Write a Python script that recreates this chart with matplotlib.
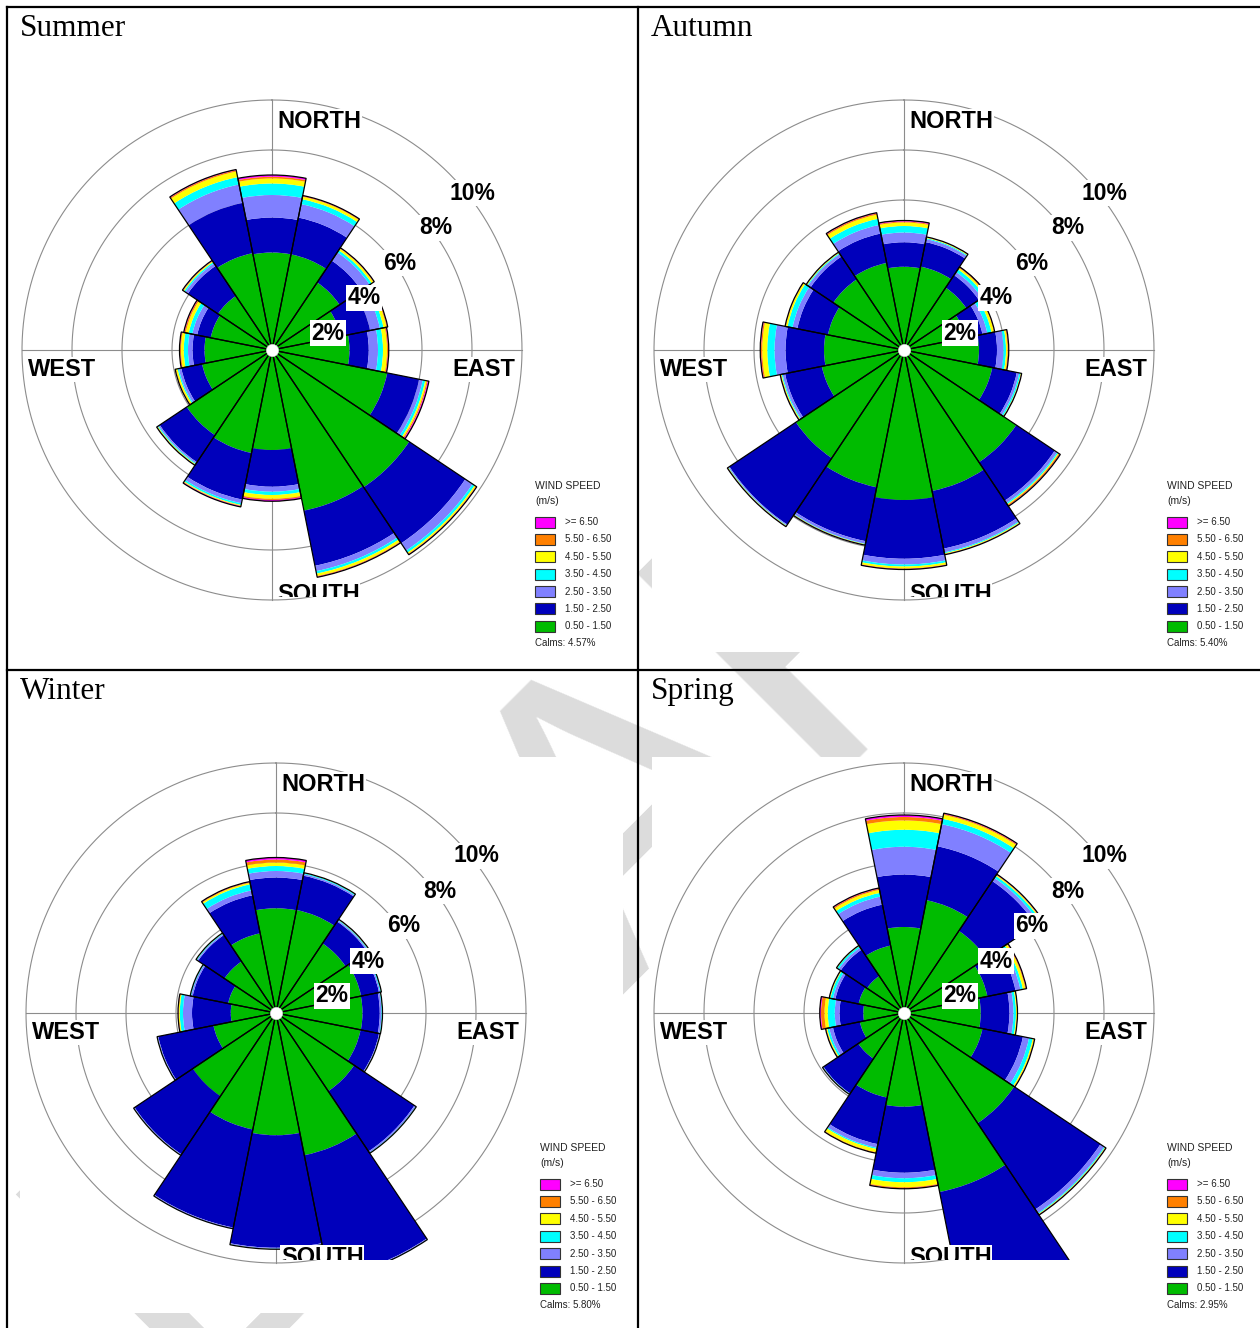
import numpy as np
import matplotlib.pyplot as plt
from matplotlib.patches import Rectangle
from matplotlib.transforms import Bbox, TransformedBbox

W, H = 1260, 1328

DIRECTIONS = ["N", "NNE", "NE", "ENE", "E", "ESE", "SE", "SSE",
              "S", "SSW", "SW", "WSW", "W", "WNW", "NW", "NNW"]
SPEED_BINS = ["0.50 - 1.50", "1.50 - 2.50", "2.50 - 3.50", "3.50 - 4.50",
              "4.50 - 5.50", "5.50 - 6.50", ">= 6.50"]
SPEED_COLORS = ["#00bb00", "#0000bb", "#8080ff", "#00ffff",
                "#ffff00", "#ff8000", "#ff00ff"]
RINGS = [2, 4, 6, 8, 10]

# frequency (%) by direction (rows follow DIRECTIONS, columns follow SPEED_BINS)
SUMMER = [
    [3.90, 1.40, 0.90, 0.46, 0.20, 0.07, 0.07],
    [3.90, 1.50, 0.55, 0.20, 0.10, 0.03, 0.02],
    [3.25, 1.05, 0.40, 0.10, 0.08, 0.02, 0.02],
    [2.80, 1.20, 0.40, 0.15, 0.12, 0.03, 0.02],
    [3.10, 0.77, 0.37, 0.20, 0.16, 0.04, 0.03],
    [4.70, 1.30, 0.15, 0.10, 0.06, 0.04, 0.05],
    [6.60, 2.70, 0.35, 0.10, 0.06, 0.02, 0.02],
    [6.55, 2.25, 0.22, 0.10, 0.10, 0.03, 0.02],
    [4.00, 1.47, 0.20, 0.13, 0.15, 0.05, 0.05],
    [4.20, 1.90, 0.15, 0.07, 0.03, 0.02, 0.03],
    [4.10, 1.30, 0.06, 0.04, 0.03, 0.01, 0.01],
    [2.85, 0.85, 0.10, 0.05, 0.07, 0.02, 0.01],
    [2.70, 0.48, 0.18, 0.17, 0.11, 0.04, 0.02],
    [2.50, 0.55, 0.20, 0.15, 0.12, 0.05, 0.03],
    [2.60, 1.45, 0.12, 0.06, 0.04, 0.02, 0.02],
    [3.95, 2.05, 0.75, 0.30, 0.23, 0.05, 0.03],
]
AUTUMN = [
    [3.33, 0.98, 0.39, 0.26, 0.14, 0.04, 0.04],
    [3.40, 1.00, 0.12, 0.04, 0.03, 0.01, 0.01],
    [3.00, 0.60, 0.15, 0.13, 0.07, 0.03, 0.02],
    [2.50, 0.70, 0.20, 0.17, 0.10, 0.02, 0.01],
    [3.00, 0.72, 0.26, 0.10, 0.06, 0.03, 0.02],
    [3.60, 1.00, 0.10, 0.06, 0.02, 0.01, 0.01],
    [5.40, 1.85, 0.12, 0.05, 0.03, 0.05, 0.02],
    [5.75, 2.35, 0.15, 0.04, 0.03, 0.02, 0.01],
    [6.00, 2.35, 0.23, 0.08, 0.08, 0.02, 0.02],
    [5.60, 2.20, 0.10, 0.02, 0.02, 0.01, 0.01],
    [5.20, 3.20, 0.04, 0.02, 0.02, 0.01, 0.01],
    [3.35, 1.50, 0.10, 0.04, 0.03, 0.02, 0.01],
    [3.20, 1.54, 0.44, 0.29, 0.20, 0.05, 0.03],
    [3.10, 1.25, 0.20, 0.20, 0.07, 0.02, 0.01],
    [3.40, 1.10, 0.12, 0.04, 0.03, 0.01, 0.01],
    [3.55, 1.20, 0.35, 0.25, 0.17, 0.05, 0.03],
]
WINTER = [
    [4.19, 1.23, 0.26, 0.20, 0.14, 0.12, 0.08],
    [4.20, 1.40, 0.06, 0.04, 0.01, 0.01, 0.00],
    [3.35, 1.05, 0.05, 0.03, 0.01, 0.01, 0.01],
    [3.47, 0.73, 0.05, 0.04, 0.01, 0.00, 0.00],
    [3.46, 0.69, 0.07, 0.03, 0.01, 0.00, 0.00],
    [3.45, 0.75, 0.03, 0.01, 0.01, 0.00, 0.00],
    [3.76, 2.90, 0.06, 0.02, 0.01, 0.00, 0.00],
    [5.80, 5.05, 0.04, 0.01, 0.00, 0.00, 0.00],
    [4.89, 4.50, 0.04, 0.01, 0.01, 0.00, 0.00],
    [4.75, 4.00, 0.04, 0.01, 0.00, 0.00, 0.00],
    [4.00, 2.80, 0.03, 0.01, 0.01, 0.00, 0.00],
    [2.55, 2.25, 0.03, 0.01, 0.01, 0.00, 0.00],
    [1.81, 1.55, 0.36, 0.13, 0.04, 0.02, 0.01],
    [1.95, 1.45, 0.06, 0.03, 0.01, 0.00, 0.00],
    [2.48, 1.27, 0.05, 0.03, 0.01, 0.01, 0.00],
    [3.25, 1.55, 0.20, 0.25, 0.06, 0.03, 0.02],
]
SPRING = [
    [3.44, 2.10, 1.11, 0.68, 0.37, 0.14, 0.08],
    [4.60, 2.20, 0.90, 0.22, 0.16, 0.04, 0.03],
    [3.95, 2.40, 0.15, 0.10, 0.04, 0.02, 0.02],
    [3.40, 1.15, 0.20, 0.10, 0.10, 0.03, 0.02],
    [3.07, 1.15, 0.16, 0.10, 0.04, 0.01, 0.01],
    [3.20, 1.65, 0.25, 0.15, 0.05, 0.02, 0.01],
    [5.30, 4.15, 0.18, 0.04, 0.02, 0.02, 0.01],
    [7.30, 6.30, 0.15, 0.03, 0.02, 0.00, 0.00],
    [3.75, 2.64, 0.22, 0.16, 0.20, 0.04, 0.02],
    [3.45, 1.90, 0.15, 0.05, 0.13, 0.03, 0.01],
    [2.20, 1.67, 0.02, 0.02, 0.01, 0.00, 0.00],
    [1.80, 1.10, 0.15, 0.08, 0.04, 0.02, 0.01],
    [1.63, 0.95, 0.19, 0.28, 0.13, 0.14, 0.05],
    [1.85, 0.95, 0.10, 0.10, 0.03, 0.01, 0.01],
    [1.78, 1.27, 0.10, 0.07, 0.02, 0.01, 0.00],
    [2.75, 1.67, 0.33, 0.15, 0.12, 0.05, 0.03],
]
CALMS = {"Summer": 4.57, "Autumn": 5.40, "Winter": 5.80, "Spring": 2.95}

R_MAX = 12.5      # radial limit of each rose, in %
PX_PER_PCT = 25   # 10% ring = 250 px
RING_GREY = "#8c8c8c"
SANS = "Liberation Sans"

fig = plt.figure(figsize=(W / 100, H / 100), dpi=100)


def fx(x):
    return x / W


def fy(y):
    return 1 - y / H


def fig_box(x0, y0, x1, y1):
    return TransformedBbox(Bbox([[fx(x0), fy(y1)], [fx(x1), fy(y0)]]), fig.transFigure)


def white_rect(x0, y0, x1, y1):
    fig.add_artist(Rectangle((fx(x0), fy(y1)), (x1 - x0) / W, (y1 - y0) / H,
                             transform=fig.transFigure, fc="white", ec="none", zorder=-2))


# faint watermark, showing only between the pasted pictures
fig.text(fx(600), fy(830), "DRAFT", rotation=45, fontsize=300, color="#dcdcdc",
         ha="center", va="center", family=SANS, zorder=-3)


def draw_rose(rows, cx, cy):
    size = 2 * R_MAX * PX_PER_PCT
    clip = fig_box(cx - 252, cy - 257, cx + 252, cy + 247)

    ax = fig.add_axes([fx(cx - size / 2), fy(cy + size / 2), size / W, size / H],
                      projection="polar")
    ax.set_theta_zero_location("N")
    ax.set_theta_direction(-1)
    ax.set_ylim(0, R_MAX)
    ax.axis("off")

    t = np.linspace(0, 2 * np.pi, 400)
    for r in RINGS:
        ax.plot(t, np.full_like(t, r), color=RING_GREY, lw=0.8, zorder=1)
    for a in (0, 90, 180, 270):
        ax.plot([np.deg2rad(a)] * 2, [0, RINGS[-1]], color=RING_GREY, lw=0.8, zorder=1)

    data = np.array(rows)
    theta = np.deg2rad(np.arange(len(DIRECTIONS)) * 22.5)
    width = np.deg2rad(22.5)
    bottom = np.zeros(len(DIRECTIONS))
    for k, color in enumerate(SPEED_COLORS):
        bars = ax.bar(theta, data[:, k], width=width, bottom=bottom,
                      color=color, edgecolor="none", zorder=2)
        for b in bars:
            b.set_clip_box(clip)
        bottom += data[:, k]
    outline = ax.bar(theta, bottom, width=width, fill=False,
                     edgecolor="black", lw=0.9, zorder=3)
    for b in outline:
        b.set_clip_box(clip)
    ax.scatter([0], [0], s=78, c="white", edgecolors="#dddddd", linewidths=0.4, zorder=4)

    # ring labels run up to the right of the centre
    for v in RINGS:
        x = cx + PX_PER_PCT * (0.8 + 0.72 * v)
        y = cy - PX_PER_PCT * (0.7 * v - 0.72)
        fig.text(fx(x), fy(y), f"{v}%", ha="center", va="center", fontsize=16.5,
                 weight="bold", family=SANS,
                 bbox=dict(fc="white", ec="none", pad=0.8))

    lab = dict(fontsize=17, weight="bold", family=SANS, va="baseline",
               bbox=dict(fc="white", ec="none", pad=0.5))
    fig.text(fx(cx + 5), fy(cy - 222), "NORTH", ha="left", **lab)
    fig.text(fx(cx - 244), fy(cy + 26), "WEST", ha="left", **lab)
    fig.text(fx(cx + 243), fy(cy + 26), "EAST", ha="right", **lab)
    south = fig.text(fx(cx + 5), fy(cy + 251), "SOUTH", ha="left", **lab)
    south.set_clip_box(clip)


def draw_legend(lx, ly, calms):
    fig.text(fx(lx), fy(ly), "WIND SPEED", fontsize=7.5, family=SANS,
             color="#222222", ha="left", va="center")
    fig.text(fx(lx), fy(ly + 15), "(m/s)", fontsize=7.5, family=SANS,
             color="#222222", ha="left", va="center")
    for i, k in enumerate(range(len(SPEED_BINS) - 1, -1, -1)):
        yc = ly + 36 + 17.4 * i
        fig.add_artist(Rectangle((fx(lx), fy(yc + 5.5)), 20 / W, 11 / H,
                                 transform=fig.transFigure, fc=SPEED_COLORS[k],
                                 ec="#333333", lw=0.8, zorder=3))
        fig.text(fx(lx + 30), fy(yc), SPEED_BINS[k], fontsize=7, family=SANS,
                 color="#222222", ha="left", va="center")
    fig.text(fx(lx), fy(ly + 157), f"Calms: {calms:.2f}%", fontsize=7, family=SANS,
             color="#222222", ha="left", va="center")


# name, data, column, row, picture area (left, top, right, bottom in px)
seasons = [
    ("Summer", SUMMER, 0, 0, (20, 45, 627, 652)),
    ("Autumn", AUTUMN, 1, 0, (652, 45, 1260, 652)),
    ("Winter", WINTER, 0, 1, (20, 757, 623, 1313)),
    ("Spring", SPRING, 1, 1, (652, 757, 1260, 1313)),
]
for name, rows, col, row, area in seasons:
    white_rect(*area)
    x0 = 7 if col == 0 else 638
    y0 = 7 if row == 0 else 670
    cx = (272, 904)[col] + (4 if (col, row) == (0, 1) else 0)
    cy = 350 + 663 * row
    fig.text(fx(x0 + 13), fy(y0 + 29), name, fontsize=22.5, family="Liberation Serif",
             ha="left", va="baseline")
    draw_rose(rows, cx, cy)
    lx = (535, 1167)[col] + (5 if (col, row) == (0, 1) else 0)
    draw_legend(lx, 486 + 662 * row, CALMS[name])

# table grid
for x in (7, 638):
    fig.add_artist(plt.Line2D([fx(x), fx(x)], [fy(7), fy(H)], color="black", lw=1.6, zorder=6))
for y in (7, 670):
    fig.add_artist(plt.Line2D([fx(7), fx(W)], [fy(y), fy(y)], color="black", lw=1.6, zorder=6))

fig.savefig("out.png", dpi=100)
